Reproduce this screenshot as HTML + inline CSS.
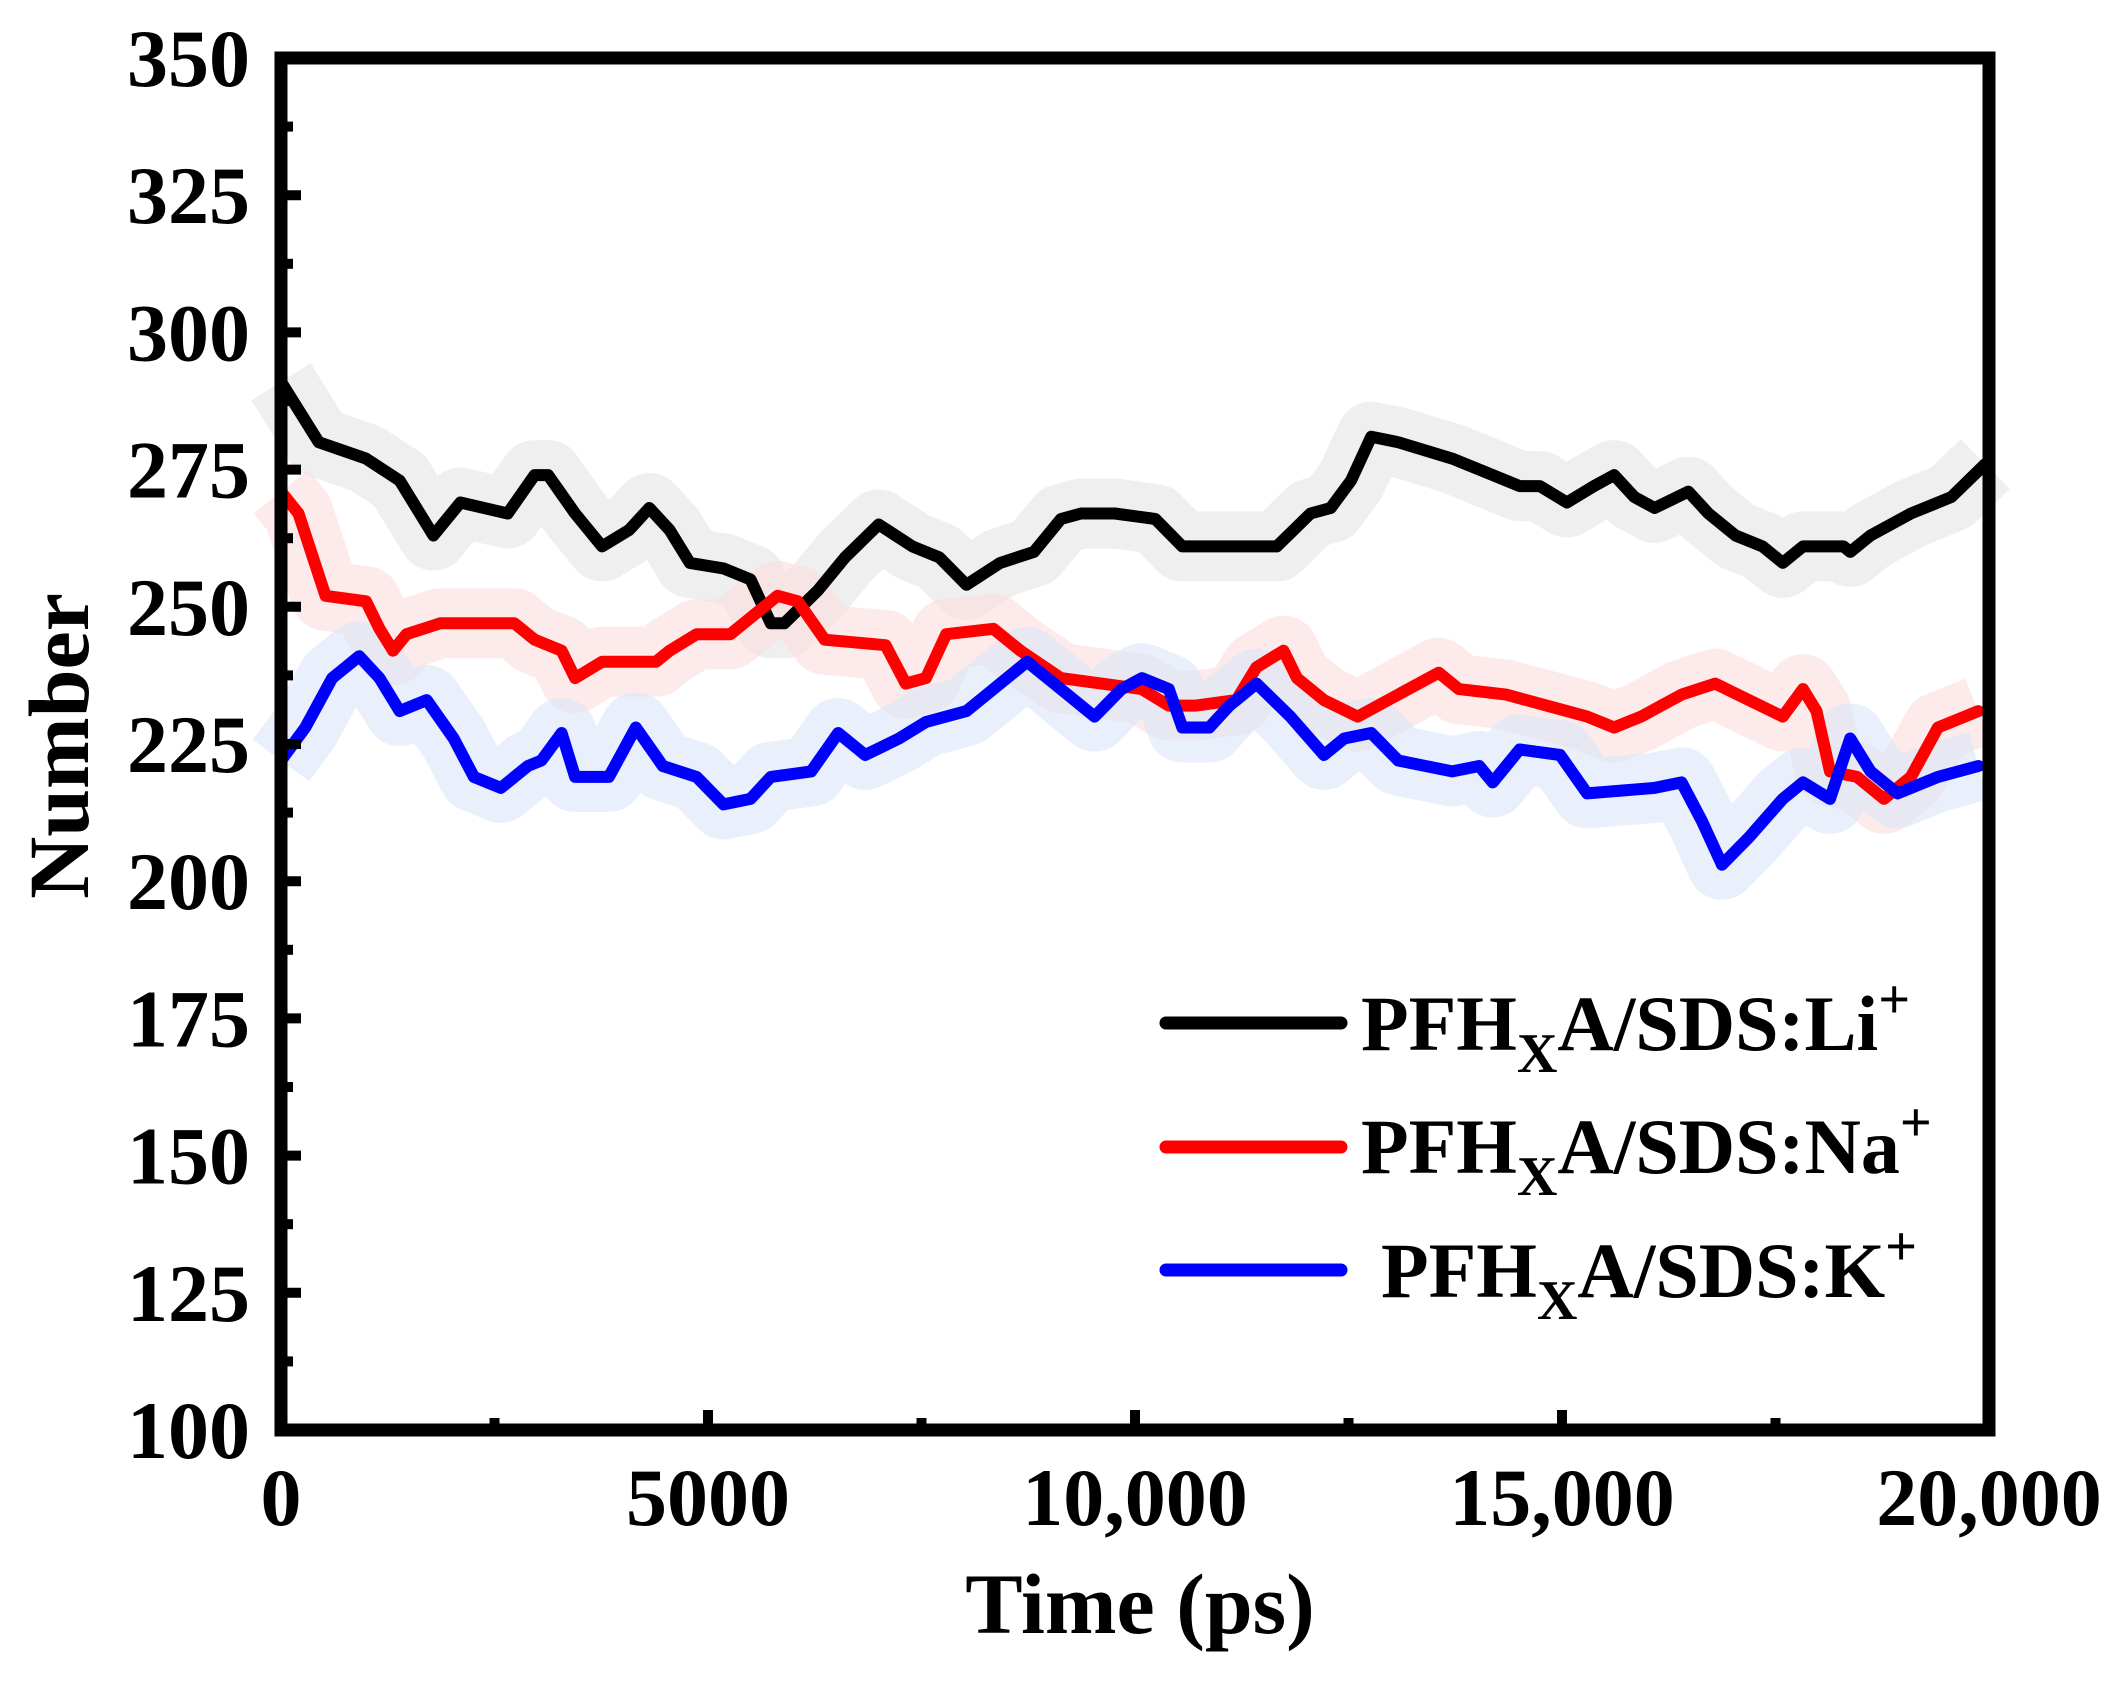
<!DOCTYPE html>
<html><head><meta charset="utf-8"><style>
html,body{margin:0;padding:0;background:#fff;}
svg{display:block;font-family:"Liberation Serif",serif;font-weight:bold;}
</style></head><body>
<svg id="chart" width="2108" height="1685" viewBox="0 0 2108 1685" xmlns="http://www.w3.org/2000/svg">
<g id="bands"></g><g id="lines"></g><g id="axes"></g><g id="legend"></g>
</svg>
<script>
const liTime=[0,442,995,1390,1785,2101,2654,2970,3128,3444,3760,4076,4313,4550,4787,5182,5498,5735,5893,6288,6604,6999,7394,7710,8026,8421,8816,9132,9369,9764,10238,10554,11028,11660,12055,12292,12529,12766,13082,13714,14188,14504,14741,15057,15373,15610,15847,16084,16479,16716,17032,17348,17585,17822,18296,18375,18612,19086,19560,19955];
const liValues=[291,280,277,273,263,269,267,274,274,267,261,264,268,264,258,257,255,247,247,253,259,265,261,259,254,258,260,266,267,267,266,261,261,261,267,268,273,281,280,277,274,272,272,269,272,274,270,268,271,267,263,261,258,261,261,260,263,267,270,276];
const naTime=[0,205,521,995,1153,1311,1469,1864,2338,2733,2970,3286,3444,3760,4392,4550,4866,5261,5498,5814,6051,6367,7078,7315,7552,7789,8342,8658,9132,9606,10080,10396,10712,11186,11423,11739,11897,12213,12608,13082,13556,13793,14346,14820,15294,15610,15926,16400,16795,17190,17585,17822,17980,18138,18454,18770,19086,19402,19876];
const naValues=[271,267,252,251,246,242,245,247,247,247,244,242,237,240,240,242,245,245,248,252,251,244,243,236,237,245,246,242,237,236,235,232,232,233,239,242,237,233,230,234,238,235,234,232,230,228,230,234,236,233,230,235,231,220,219,215,219,228,231];
const kTime=[0,284,600,916,1153,1390,1706,2022,2259,2575,2891,3049,3286,3444,3839,4155,4471,4866,5182,5498,5735,6209,6525,6841,7236,7552,8026,8342,8737,9132,9527,9843,10080,10396,10554,10870,11107,11423,11818,12213,12450,12766,13082,13714,14030,14188,14504,14978,15294,16084,16400,16637,16874,17190,17585,17822,18138,18375,18612,18928,19402,19876];
const kValues=[222,228,237,241,237,231,233,226,219,217,221,222,227,219,219,228,221,219,214,215,219,220,227,223,226,229,231,235,240,235,230,235,237,235,228,228,232,236,230,223,226,227,222,220,221,218,224,223,216,217,218,211,203,208,215,218,215,226,220,216,219,221];
const yTicks=[100,125,150,175,200,225,250,275,300,325,350];
const xTicks=[0,5000,10000,15000,20000];
const xTickLabels=["0","5000","10,000","15,000","20,000"];

const L=281,R=1989,T=58,B=1430;
const X=v=>L+(v-0)/(20000-0)*(R-L);
const Y=v=>B-(v-100)/(350-100)*(B-T);
const NS="http://www.w3.org/2000/svg";
function mk(tag,attrs,parent){const e=document.createElementNS(NS,tag);for(const k in attrs)e.setAttribute(k,attrs[k]);parent.appendChild(e);return e;}
const bands=document.getElementById('bands'),lines=document.getElementById('lines'),axes=document.getElementById('axes'),legend=document.getElementById('legend');

const series=[
 {t:liTime,v:liValues,c:"#000",b:"#e4e4e4",n:"li"},
 {t:naTime,v:naValues,c:"#ff0000",b:"#fcdede",n:"na"},
 {t:kTime,v:kValues,c:"#0000ff",b:"#dbe6f8",n:"k"}
];
series.forEach(s=>{
 const pts=s.t.map((t,i)=>X(t).toFixed(1)+","+Y(s.v[i]).toFixed(1)).join(" ");
 const bp=mk('polyline',{points:pts,fill:"none",stroke:s.b,"stroke-width":70,"stroke-linejoin":"round","stroke-linecap":"butt",opacity:0.6},bands);
 
 
});
series.forEach(s=>{
 const pts=s.t.map((t,i)=>X(t).toFixed(1)+","+Y(s.v[i]).toFixed(1)).join(" ");
 const p=mk('polyline',{points:pts,fill:"none",stroke:s.c,"stroke-width":12,"stroke-linejoin":"round","stroke-linecap":"round"},lines);
 
 
});

const fr=mk('rect',{x:L,y:T,width:R-L,height:B-T,fill:"none",stroke:"#000","stroke-width":13},axes);


yTicks.forEach((v,i)=>{
 const y=Y(v);
 const tk=mk('line',{x1:L,x2:L+20,y1:y,y2:y,stroke:"#000","stroke-width":10},axes);
 
 
 if(i<yTicks.length-1){const m=Y(v+12.5);
  const mt=mk('line',{x1:L,x2:L+12,y1:m,y2:m,stroke:"#000","stroke-width":10},axes);
  
  }
 const t=mk('text',{x:250,y:y+28,"text-anchor":"end","font-size":82},axes);t.textContent=v;
 
 
});
xTicks.forEach((v,i)=>{
 const x=X(v);
 const tk=mk('line',{x1:x,x2:x,y1:B,y2:B-20,stroke:"#000","stroke-width":10},axes);
 
 
 if(i<xTicks.length-1){const m=X(v+2500);
  const mt=mk('line',{x1:m,x2:m,y1:B,y2:B-12,stroke:"#000","stroke-width":10},axes);
  
  }
 const t=mk('text',{x:x,y:1525,"text-anchor":"middle","font-size":82},axes);t.textContent=xTickLabels[i];
 
 
});
const xt=mk('text',{x:1140,y:1633,"text-anchor":"middle","font-size":86},axes);xt.textContent="Time (ps)";


const yt=mk('text',{x:0,y:0,"text-anchor":"middle","font-size":86,transform:"translate(88,746) rotate(-90)"},axes);yt.textContent="Number";



const legItems=[{c:"#000",y:1023,tx:1361,base:1050,ion:"Li"},{c:"#ff0000",y:1147,tx:1361,base:1173,ion:"Na"},{c:"#0000ff",y:1270,tx:1381,base:1297,ion:"K"}];
legItems.forEach(it=>{
 const ln=mk('line',{x1:1166,x2:1341,y1:it.y,y2:it.y,stroke:it.c,"stroke-width":13,"stroke-linecap":"round"},legend);
 
 
 const t=mk('text',{x:it.tx,y:it.base,"font-size":78},legend);
 
 
 t.innerHTML='PFH<tspan font-size="56" dy="22">X</tspan><tspan dy="-22">A/SDS:'+it.ion+'</tspan><tspan font-size="56" dy="-32">+</tspan>';
});
</script>
</body></html>
